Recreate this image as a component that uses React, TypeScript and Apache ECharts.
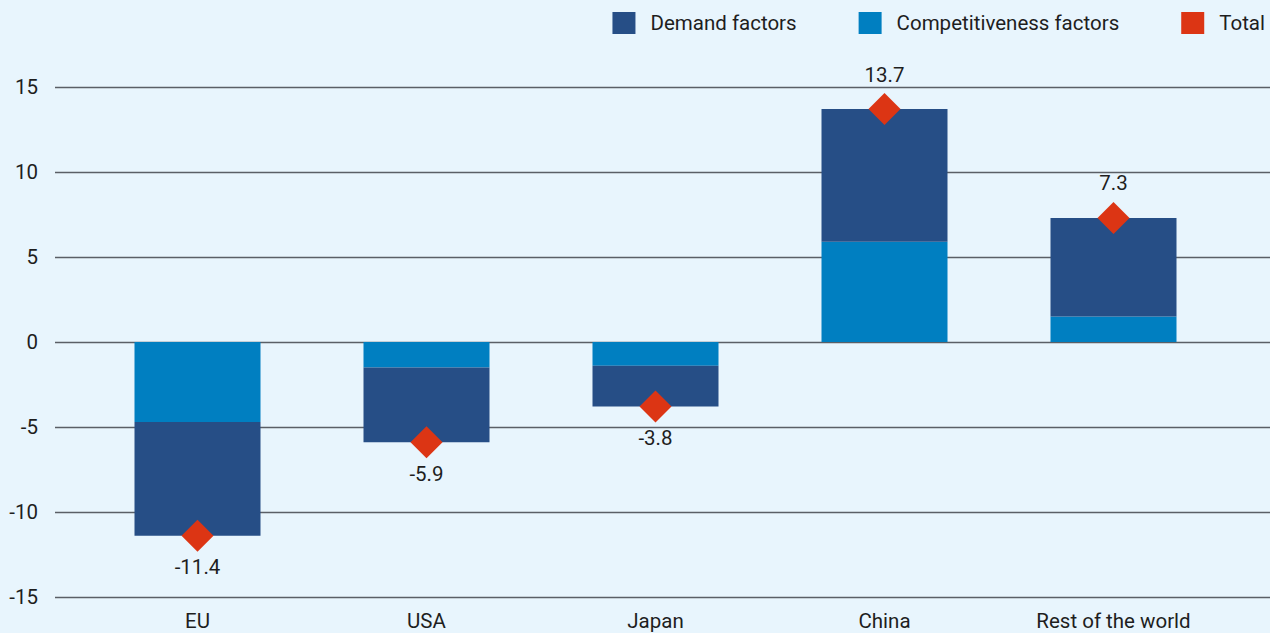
import React, { useEffect, useRef } from "react";
import * as echarts from "echarts";

const categories = ["EU", "USA", "Japan", "China", "Rest of the world"];
const competitiveness = [-4.7, -1.5, -1.4, 5.9, 1.5];
const demand = [-6.7, -4.4, -2.4, 7.8, 5.8];
const totals = [-11.4, -5.9, -3.8, 13.7, 7.3];

const FONT = "Roboto";
const TEXT = "#1e1e1e";
const C_DEMAND = "#264e86";
const C_COMP = "#007fc1";
const C_TOTAL = "#dc3514";
const FS = 20.5;

export default function App() {
  const ref = useRef<HTMLDivElement>(null);
  useEffect(() => {
    const chart = echarts.init(ref.current!, null, { renderer: "svg" });
    chart.setOption({
      animation: false,
      backgroundColor: "#e8f5fd",
      textStyle: { fontFamily: FONT, color: TEXT },
      legend: {
        top: 7,
        right: 0,
        itemWidth: 23,
        itemHeight: 22,
        itemGap: 62,
        textStyle: { fontSize: FS, color: TEXT, fontFamily: FONT, padding: [0, 0, 0, 10] },
        data: [
          { name: "Demand factors", icon: "rect" },
          { name: "Competitiveness factors", icon: "rect" },
          { name: "Total", icon: "rect" },
        ],
      },
      grid: [
        { left: 55, right: 0, top: 87, bottom: 36 },
        { left: 83, width: 1145, top: 87, bottom: 36 },
      ],
      xAxis: [
        { type: "value", gridIndex: 0, show: false, min: 0, max: 1 },
        {
          type: "category",
          gridIndex: 1,
          data: categories,
          axisLine: { show: false },
          axisTick: { show: false },
          axisLabel: { fontSize: FS, color: TEXT, margin: 13, fontFamily: FONT },
        },
      ],
      yAxis: [
        {
          type: "value",
          gridIndex: 0,
          min: -15,
          max: 15,
          interval: 5,
          axisLine: { show: false },
          axisTick: { show: false },
          axisLabel: { fontSize: FS, color: TEXT, margin: 17, fontFamily: FONT },
          splitLine: { lineStyle: { color: "#5a5f66", width: 1.3 } },
        },
        {
          type: "value",
          gridIndex: 1,
          min: -15,
          max: 15,
          interval: 5,
          show: false,
          splitLine: { show: false },
        },
      ],
      series: [
        {
          name: "Competitiveness factors",
          type: "bar",
          xAxisIndex: 1,
          yAxisIndex: 1,
          stack: "s",
          barWidth: 126,
          itemStyle: { color: C_COMP },
          data: competitiveness,
        },
        {
          name: "Demand factors",
          type: "bar",
          xAxisIndex: 1,
          yAxisIndex: 1,
          stack: "s",
          barWidth: 126,
          itemStyle: { color: C_DEMAND },
          data: demand,
        },
        {
          name: "Total",
          type: "scatter",
          xAxisIndex: 1,
          yAxisIndex: 1,
          symbol: "diamond",
          symbolSize: 32,
          itemStyle: { color: C_TOTAL, opacity: 1 },
          z: 5,
          data: totals.map((v) => ({
            value: v,
            label: {
              show: true,
              position: v < 0 ? "bottom" : "top",
              distance: v < 0 ? 5 : 8,
              formatter: v.toFixed(1),
              fontSize: FS,
              color: TEXT,
              fontFamily: FONT,
            },
          })),
        },
      ],
    });
    return () => chart.dispose();
  }, []);
  return <div ref={ref} style={{ width: 1270, height: 633, position: "absolute", left: 0, top: 0 }} />;
}
